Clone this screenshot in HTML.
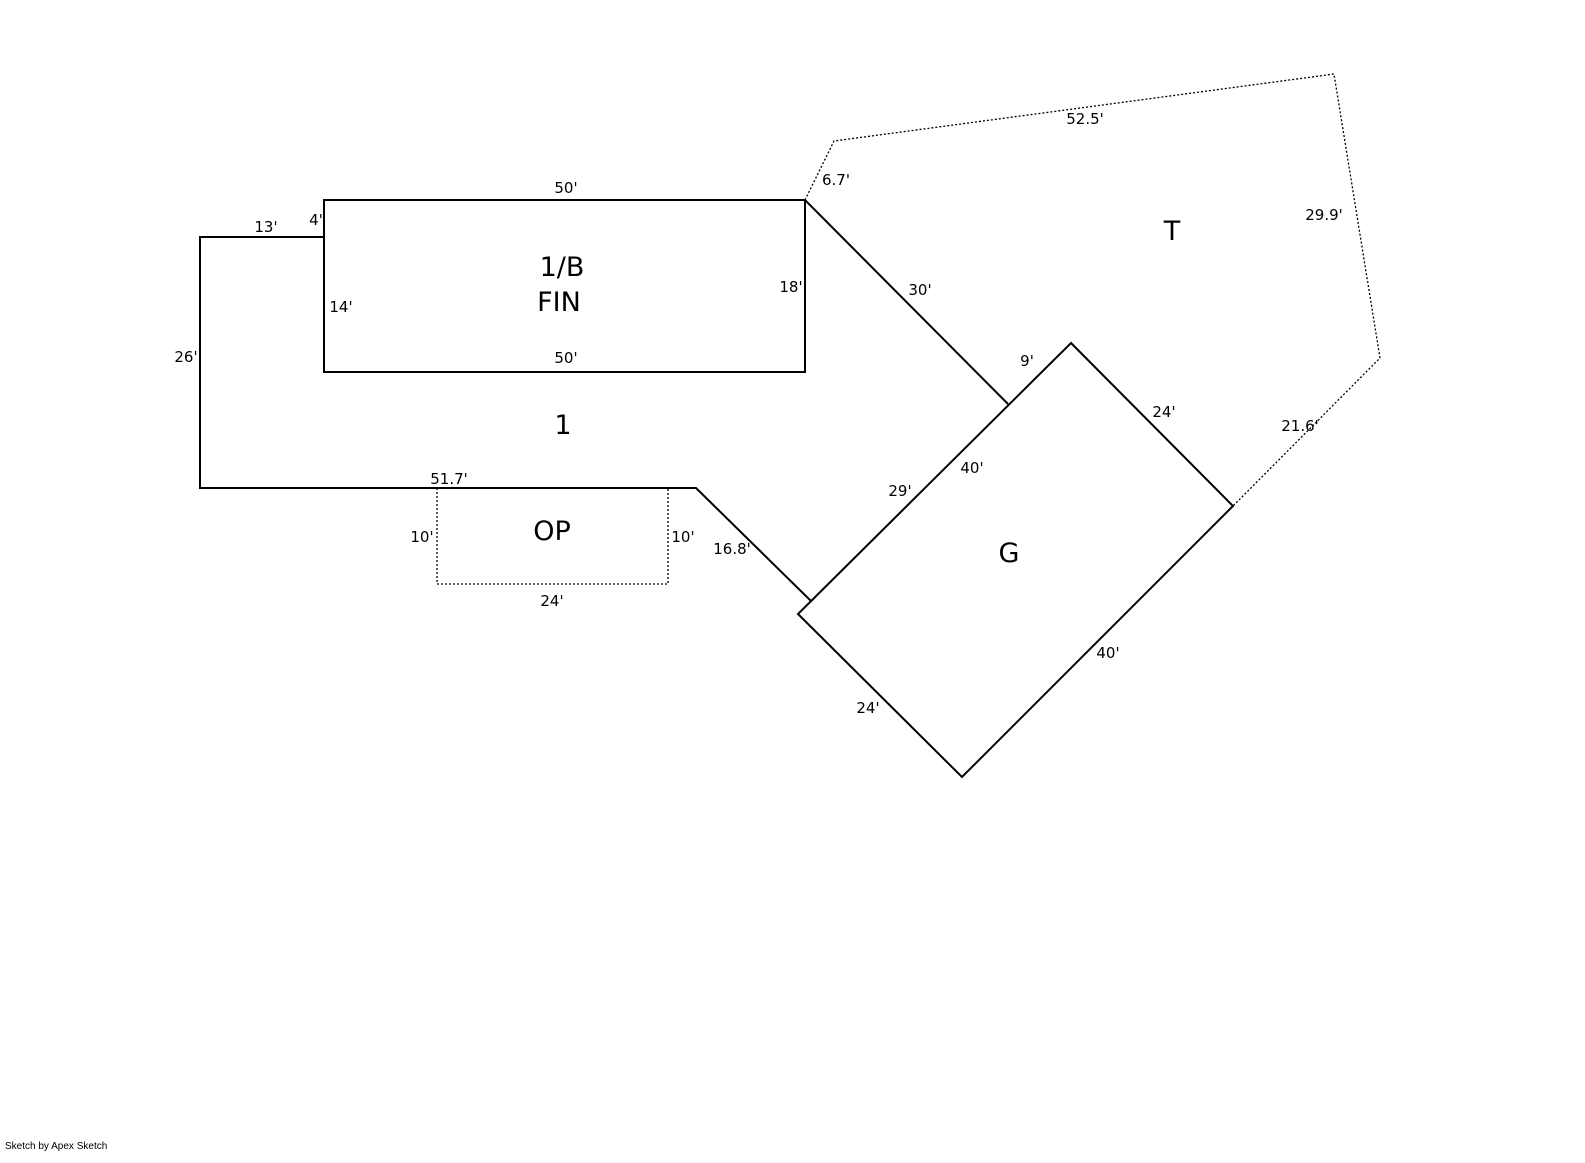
<!DOCTYPE html>
<html><head><meta charset="utf-8"><style>
html,body{margin:0;padding:0;background:#fff;}
svg{display:block;}
text{font-family:"DejaVu Sans","Liberation Sans",sans-serif;fill:#000;}
.d{font-size:15px;}
.l{font-size:27px;}
</style></head><body>
<svg width="1585" height="1163" viewBox="0 0 1585 1163" xmlns="http://www.w3.org/2000/svg">
<g fill="none" stroke="#000" stroke-width="2">
<rect x="324" y="200" width="481" height="172"/>
<polyline points="324,237 200,237 200,488 696,488 811,601"/>
<line x1="805" y1="200" x2="1008" y2="404"/>
<polygon points="1071,343 1233,506 962,777 798,614"/>
</g>
<g fill="none" stroke="#000" stroke-width="1.3" stroke-dasharray="2,2">
<polyline points="805,200 834,141 1334,74 1380,358 1233,506"/>
<polyline points="437,488 437,584 668,584 668,488"/>
</g>
<g class="d">
<text x="566" y="193" text-anchor="middle">50'</text>
<text x="566" y="363" text-anchor="middle">50'</text>
<text x="266" y="232" text-anchor="middle">13'</text>
<text x="316" y="225" text-anchor="middle">4'</text>
<text x="341" y="312" text-anchor="middle">14'</text>
<text x="791" y="292" text-anchor="middle">18'</text>
<text x="186" y="362" text-anchor="middle">26'</text>
<text x="449" y="484" text-anchor="middle">51.7'</text>
<text x="422" y="542" text-anchor="middle">10'</text>
<text x="683" y="542" text-anchor="middle">10'</text>
<text x="552" y="606" text-anchor="middle">24'</text>
<text x="732" y="554" text-anchor="middle">16.8'</text>
<text x="836" y="185" text-anchor="middle">6.7'</text>
<text x="1085" y="124" text-anchor="middle">52.5'</text>
<text x="1324" y="220" text-anchor="middle">29.9'</text>
<text x="1300" y="431" text-anchor="middle">21.6'</text>
<text x="920" y="295" text-anchor="middle">30'</text>
<text x="1027" y="366" text-anchor="middle">9'</text>
<text x="1164" y="417" text-anchor="middle">24'</text>
<text x="972" y="473" text-anchor="middle">40'</text>
<text x="900" y="496" text-anchor="middle">29'</text>
<text x="1108" y="658" text-anchor="middle">40'</text>
<text x="868" y="713" text-anchor="middle">24'</text>
</g>
<g class="l">
<text x="562" y="276" text-anchor="middle">1/B</text>
<text x="559" y="311" text-anchor="middle">FIN</text>
<text x="563" y="434" text-anchor="middle">1</text>
<text x="552" y="540" text-anchor="middle">OP</text>
<text x="1009" y="562" text-anchor="middle">G</text>
<text x="1172" y="240" text-anchor="middle">T</text>
</g>
<text x="5" y="1149" style="font-size:10px;font-family:'Liberation Sans',sans-serif;">Sketch by Apex Sketch</text>
</svg>
</body></html>
